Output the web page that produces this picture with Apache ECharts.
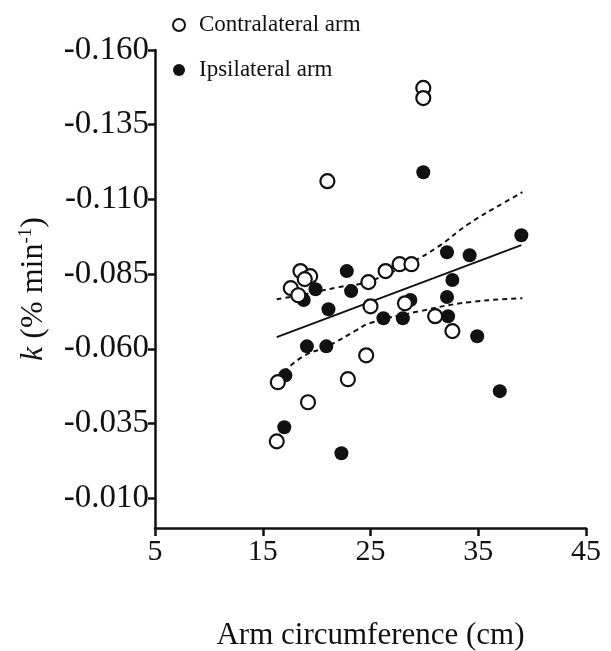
<!DOCTYPE html>
<html>
<head>
<meta charset="utf-8">
<script src="https://cdn.jsdelivr.net/npm/echarts@6/dist/echarts.min.js"></script>
<style>
  html, body { margin: 0; padding: 0; background: #fff; }
  #chart { width: 611px; height: 651px; }
</style>
</head>
<body>
<div id="chart"></div>
<script>
// contralateral arm, open circles: [circumference cm, k]
const contralateral = [
  [21.0, -0.1161], [29.9, -0.1473], [29.9, -0.1439], [18.5, -0.0860],
  [19.4, -0.0843], [18.9, -0.0833], [17.6, -0.0803], [18.3, -0.0779],
  [24.8, -0.0823], [26.4, -0.0860], [27.7, -0.0883], [28.8, -0.0883],
  [25.0, -0.0742], [28.2, -0.0752], [31.0, -0.0709], [32.6, -0.0659],
  [24.6, -0.0578], [16.4, -0.0488], [22.9, -0.0498], [19.2, -0.0421],
  [16.3, -0.0290]
]
// ipsilateral arm, filled circles
const ipsilateral = [
  [29.9, -0.1191], [39.0, -0.0980], [32.1, -0.0923], [34.2, -0.0913],
  [22.8, -0.0860], [32.6, -0.0830], [19.9, -0.0799], [23.2, -0.0793],
  [18.8, -0.0763], [32.1, -0.0773], [28.7, -0.0763], [21.1, -0.0732],
  [26.2, -0.0702], [28.0, -0.0702], [32.2, -0.0709], [34.9, -0.0642],
  [19.1, -0.0608], [20.9, -0.0608], [17.1, -0.0511], [17.0, -0.0337],
  [22.3, -0.0250], [37.0, -0.0458]
]
// regression line and 95% bands
const fitLine = [[16.3, -0.0639], [39.0, -0.0947]]
const upperBand = [
  [16.3, -0.0766], [18.4, -0.0779], [22.0, -0.0806], [24.9, -0.0826],
  [28.8, -0.0890], [31.2, -0.0940], [34.2, -0.1020], [37.3, -0.1087],
  [39.1, -0.1124]
]
const lowerBand = [
  [16.4, -0.0501], [18.6, -0.0571], [21.0, -0.0608], [23.7, -0.0662],
  [24.9, -0.0685], [29.6, -0.0726], [34.2, -0.0756], [39.1, -0.0769]
]
const xTicks = [5, 15, 25, 35, 45]
const yTicks = [-0.160, -0.135, -0.110, -0.085, -0.060, -0.035, -0.010]

const font = 'Liberation Serif'
const ink = '#111'

let chart = echarts.init(document.getElementById('chart'))

let option = {
  animation: false,
  backgroundColor: '#fff',
  grid: { left: 155, right: 25, top: 50, bottom: 123, outerBoundsMode: 'none' },
  legend: {
    orient: 'vertical',
    left: 167,
    top: 7,
    itemGap: 19,
    itemWidth: 12,
    itemHeight: 12,
    textStyle: { fontFamily: font, fontSize: 23, color: ink, lineHeight: 26, padding: [0, 0, 0, 9] },
    data: ['Contralateral arm', 'Ipsilateral arm']
  },
  xAxis: {
    type: 'value',
    min: 5,
    max: 45,
    name: 'Arm circumference (cm)',
    nameLocation: 'middle',
    nameGap: 92,
    nameTextStyle: { fontFamily: font, fontSize: 31, color: ink },
    axisLine: { lineStyle: { color: ink, width: 2.5 } },
    axisTick: { length: 8, lineStyle: { width: 2.5, color: ink }, customValues: xTicks },
    axisLabel: { fontFamily: font, fontSize: 30, color: ink, margin: 9, customValues: xTicks },
    splitLine: { show: false }
  },
  yAxis: {
    type: 'value',
    inverse: true,
    min: -0.16,
    max: 0,
    name: '{k|k} (% min{sup|-1})',
    nameLocation: 'middle',
    nameRotate: 90,
    nameGap: 105,
    nameTextStyle: {
      fontFamily: font, fontSize: 32, color: ink,
      rich: {
        k: { fontFamily: font, fontSize: 32, fontStyle: 'italic', color: ink },
        sup: { fontFamily: font, fontSize: 19, color: ink, verticalAlign: 'top', padding: [0, 0, 14, 0] }
      }
    },
    axisLine: { lineStyle: { color: ink, width: 2.5 } },
    axisTick: { length: 7, lineStyle: { width: 2.5, color: ink }, customValues: yTicks },
    axisLabel: {
      fontFamily: font, fontSize: 33, color: ink, margin: 6, customValues: yTicks,
      formatter: v => v.toFixed(3)
    },
    splitLine: { show: false }
  },
  series: [
    {
      name: 'Contralateral arm',
      type: 'scatter',
      symbol: 'circle',
      symbolSize: 14,
      itemStyle: { color: '#fff', borderColor: ink, borderWidth: 2.2, opacity: 1 },
      data: contralateral,
      z: 4
    },
    {
      name: 'Ipsilateral arm',
      type: 'scatter',
      symbol: 'circle',
      symbolSize: 14,
      itemStyle: { color: ink, opacity: 1 },
      data: ipsilateral,
      z: 3
    },
    {
      name: 'fit',
      type: 'line',
      showSymbol: false,
      lineStyle: { color: ink, width: 2 },
      data: fitLine,
      z: 2
    },
    {
      name: 'upper',
      type: 'line',
      smooth: true,
      showSymbol: false,
      lineStyle: { color: ink, width: 2, type: [5, 4] },
      data: upperBand,
      z: 2
    },
    {
      name: 'lower',
      type: 'line',
      smooth: true,
      showSymbol: false,
      lineStyle: { color: ink, width: 2, type: [5, 4] },
      data: lowerBand,
      z: 2
    }
  ]
}

chart.setOption(option)
</script>
</body>
</html>
